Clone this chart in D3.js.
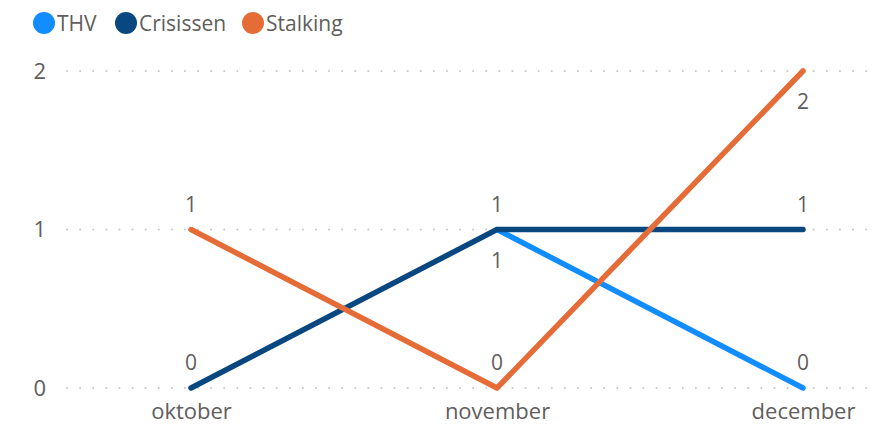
<!DOCTYPE html>
<html>
<head>
<meta charset="utf-8">
<script src="https://cdn.jsdelivr.net/npm/d3@7/dist/d3.min.js"></script>
<style>
  body { margin: 0; background: #fff; }
  text { font-family: "Open Sans", "Noto Sans", sans-serif; fill: #605E5C; }
</style>
</head>
<body>
<div id="chart"></div>
<script>
// Data
var months = ["oktober", "november", "december"];
var thv = [null, 1, 0];
var crisissen = [0, 1, 1];
var stalking = [1, 0, 2];
var yTicks = [0, 1, 2];

var seriesNames = ["THV", "Crisissen", "Stalking"];
var seriesColors = ["#118DFF", "#094780", "#E66C37"];
// label placement per point: "above" or "below"
var labelPos = [
  [null, "below", "above"],
  ["above", "above", "above"],
  ["above", "above", "below"]
];

var width = 875, height = 425;

var svg = d3.select("#chart").append("svg")
    .attr("width", width)
    .attr("height", height);

var x = d3.scalePoint()
    .domain(months)
    .range([191, 803]);

var y = d3.scaleLinear()
    .domain([0, 2])
    .range([388, 71]);

// gridlines
svg.append("g").selectAll("line")
  .data(yTicks)
  .enter().append("line")
    .attr("x1", 67).attr("x2", 875)
    .attr("y1", function(d) { return y(d); })
    .attr("y2", function(d) { return y(d); })
    .style("stroke", "#c8c8c8")
    .style("stroke-width", 2)
    .style("stroke-linecap", "round")
    .style("stroke-dasharray", "0.1 13");

// y axis labels
var yAxis = d3.axisLeft(y).tickValues(yTicks).tickFormat(d3.format("d")).tickSize(0).tickPadding(0);
var yg = svg.append("g").attr("transform", "translate(46,0)").call(yAxis);
yg.select(".domain").remove();
yg.selectAll("text").style("font-size", "22px").style("fill", "#605E5C")
  .style("font-family", "'Open Sans', sans-serif");

// x axis labels
var xAxis = d3.axisBottom(x).tickSize(0).tickPadding(3);
var xg = svg.append("g").attr("transform", "translate(0,400)").call(xAxis);
xg.select(".domain").remove();
xg.selectAll("text").style("font-size", "22px").style("fill", "#605E5C")
  .style("font-family", "'Open Sans', sans-serif");

// lines
var allSeries = [thv, crisissen, stalking];
var line = d3.line()
    .defined(function(d) { return d != null; })
    .x(function(d, i) { return x(months[i]); })
    .y(function(d) { return y(d); });

allSeries.forEach(function(vals, s) {
  svg.append("path")
    .attr("d", line(vals))
    .style("fill", "none")
    .style("stroke", seriesColors[s])
    .style("stroke-width", 5.5)
    .style("stroke-linecap", "round")
    .style("stroke-linejoin", "round");
});

// data labels
allSeries.forEach(function(vals, s) {
  vals.forEach(function(v, i) {
    if (v == null) return;
    var below = labelPos[s][i] === "below";
    svg.append("text")
      .attr("x", x(months[i]))
      .attr("y", y(v) + (below ? 38 : -18))
      .attr("text-anchor", "middle")
      .style("font-size", "21px")
      .text(v);
  });
});

// legend
var legendX = [44, 126, 253];
var legend = svg.append("g");
seriesNames.forEach(function(name, i) {
  legend.append("circle")
    .attr("cx", legendX[i]).attr("cy", 23).attr("r", 11)
    .style("fill", seriesColors[i]);
  legend.append("text")
    .attr("x", legendX[i] + 13).attr("y", 31)
    .style("font-size", "21px")
    .text(name);
});
</script>
</body>
</html>
